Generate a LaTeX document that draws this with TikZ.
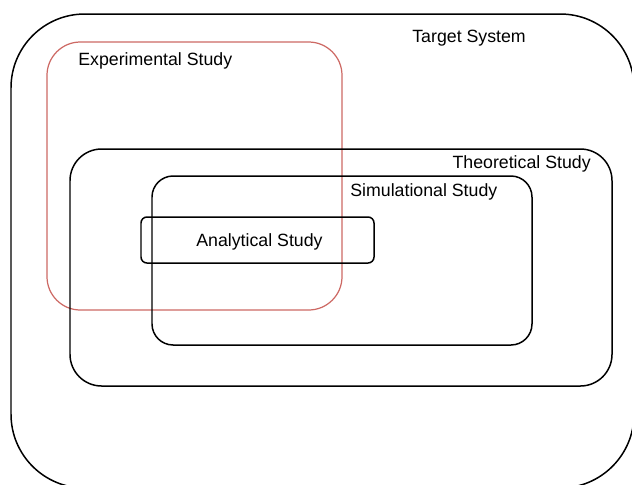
\documentclass[tikz,border=0pt]{standalone}
\usepackage{fontspec}
\setmainfont{Liberation Sans}
\definecolor{expred}{RGB}{205,105,100}
\begin{document}
\begin{tikzpicture}[x=0.02cm, y=-0.02cm,
  box/.style={draw=black, line width=0.85pt},
  expbox/.style={draw=expred, line width=0.7pt},
  lbl/.style={font=\fontsize{10.1}{12}\selectfont, inner sep=0pt}]
\useasboundingbox (0,0) rectangle (632,484);
\clip (0,0) rectangle (632,484);

\def\tleft{11};  \def\tright{634};  \def\ttop{14};  \def\tbot{488};
\def\eleft{47};  \def\eright{342};  \def\etop{42};  \def\ebot{310};
\def\hleft{70};  \def\hright{612};  \def\htop{149}; \def\hbot{386};
\def\sleft{152}; \def\sright{532};  \def\stop{176}; \def\sbot{345};
\def\aleft{141}; \def\aright{374};  \def\atop{217}; \def\abot{263};

\draw [box, rounded corners=42pt] (\tleft, \ttop) rectangle (\tright, \tbot);
\draw [expbox, rounded corners=19pt] (\eleft, \etop) rectangle (\eright, \ebot);
\draw [box, rounded corners=18pt] (\hleft, \htop) rectangle (\hright, \hbot);
\draw [box, rounded corners=12pt] (\sleft, \stop) rectangle (\sright, \sbot);
\draw [box, rounded corners=3.4pt] (\aleft, \atop) rectangle (\aright, \abot);

\node [lbl, anchor=base west] (target) at (412, 42) {Target System};
\node [lbl, anchor=base west] (experimental) at (78, 65) {Experimental Study};
\node [lbl, anchor=base east] (theoretical) at (591, 168) {Theoretical Study};
\node [lbl, anchor=base west] (simulational) at (350, 196) {Simulational Study};
\node [lbl, anchor=base west] (analytical) at (196, 246) {Analytical Study};

\end{tikzpicture}
\end{document}
